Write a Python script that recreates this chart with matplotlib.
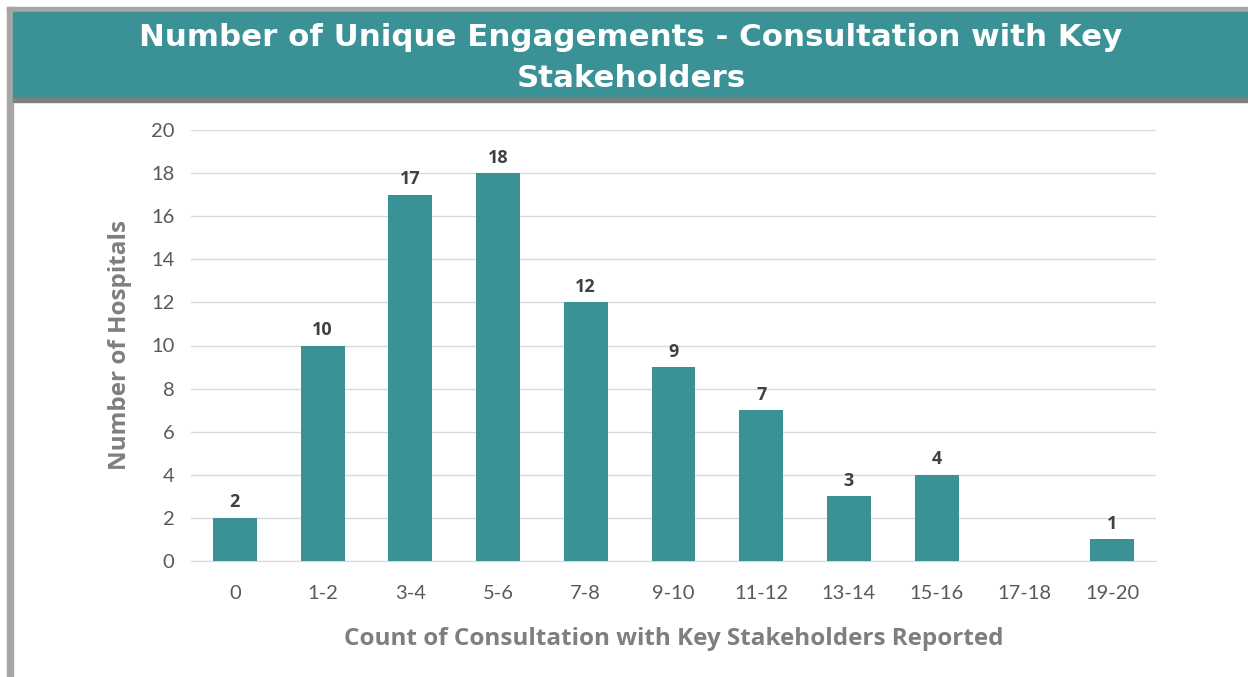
import numpy as np
import matplotlib.pyplot as plt
from matplotlib.patches import Rectangle

# categories and counts
categories = ["0", "1-2", "3-4", "5-6", "7-8", "9-10", "11-12", "13-14", "15-16", "17-18", "19-20"]
hospitals = [2, 10, 17, 18, 12, 9, 7, 3, 4, 0, 1]
y_ticks = [0, 2, 4, 6, 8, 10, 12, 14, 16, 18, 20]

title = "Number of Unique Engagements - Consultation with Key\nStakeholders"
x_label = "Count of Consultation with Key Stakeholders Reported"
y_label = "Number of Hospitals"

teal = "#3A9297"
tick_gray = "#595959"
label_gray = "#7f7f7f"

W, H = 1248, 677
fig = plt.figure(figsize=(W / 100, H / 100), dpi=100)

# frame pieces: light gray top/left border, teal banner, darker gray rule under it
def px_rect(x0, y0, x1, y1, color):
    fig.patches.append(Rectangle((x0 / W, 1 - y1 / H), (x1 - x0) / W, (y1 - y0) / H,
                                 transform=fig.transFigure, color=color, zorder=0))

px_rect(7, 7, W, 12, "#a6a6a6")
px_rect(7, 7, 13, H, "#a6a6a6")
px_rect(13, 12, W, 98, teal)
px_rect(13, 98, W, 102, "#808080")

fig.text(631 / W, 1 - 58 / H, title, ha="center", va="center", color="white",
         fontsize=22.2, fontweight="bold", family="DejaVu Sans", linespacing=1.55)

ax = fig.add_axes([191 / W, 1 - 561 / H, (1156 - 191) / W, (561 - 130) / H])
x = np.arange(len(categories))
bars = ax.bar(x, hospitals, width=0.5, color=teal, zorder=3)

for xi, v in zip(x, hospitals):
    if v > 0:
        ax.text(xi, v + 0.3, str(v), ha="center", va="bottom", fontsize=13,
                fontweight="bold", color="#404040", family="Open Sans")

ax.set_xlim(-0.5, len(categories) - 0.5)
ax.set_ylim(0, 20)
ax.set_yticks(y_ticks)
ax.set_xticks(x)
ax.set_xticklabels(categories)
ax.grid(axis="y", color="#d9d9d9", linewidth=1, zorder=0)
for s in ["top", "right", "left"]:
    ax.spines[s].set_visible(False)
ax.spines["bottom"].set_color("#d9d9d9")
ax.tick_params(length=0, labelsize=14.5, labelcolor=tick_gray, pad=12)
ax.tick_params(axis="x", pad=17)
for lbl in ax.get_xticklabels() + ax.get_yticklabels():
    lbl.set_family("Lato")

ax.set_xlabel(x_label, fontsize=17.5, fontweight="bold", color=label_gray,
              family="Open Sans")
ax.set_ylabel(y_label, fontsize=17.5, fontweight="bold", color=label_gray,
              family="Open Sans")
ax.xaxis.set_label_coords(0.5, -0.152)
ax.yaxis.set_label_coords(-0.061, 0.5)

fig.savefig("out.png", dpi=100)
